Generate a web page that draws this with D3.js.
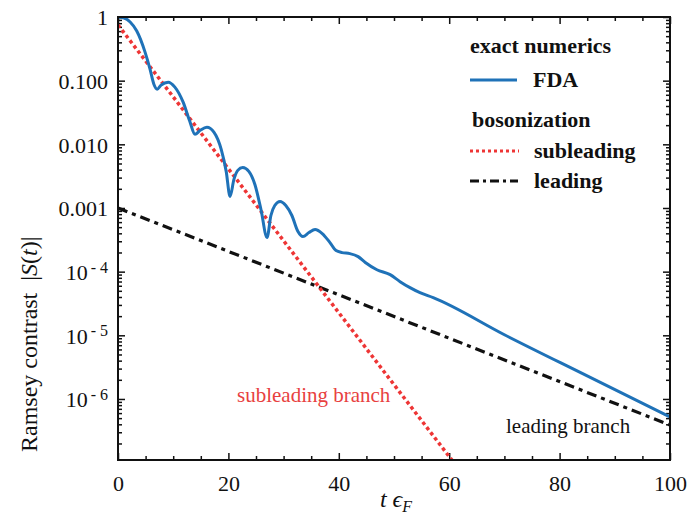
<!DOCTYPE html>
<html>
<head>
<meta charset="utf-8">
<script src="https://d3js.org/d3.v7.min.js"></script>
<style>
  body { margin: 0; background: #fff; }
  text { font-family: "Liberation Serif", "DejaVu Serif", serif; fill: #111; }
</style>
</head>
<body>
<div id="chart"></div>
<script>
// FDA exact numerics (t*eps_F, |S(t)|)
var tFDA = [0, 1.1, 2.2, 3.4, 4.9, 5.8, 6.5, 7.1, 7.8, 9.1, 10.3, 11.8, 13.0, 13.95,
  14.9, 16.1, 17.4, 18.7, 19.6, 20.3, 21.0, 21.7, 22.6, 23.7, 24.8, 25.9, 27.0,
  27.7, 28.4, 29.35, 30.4, 31.5, 32.6, 33.5, 34.6, 35.7, 37.0, 38.4, 39.5, 40.6,
  42.0, 43.5, 44.8, 46.9, 49.3, 51.1, 52.9, 54.7, 57.1, 70, 85, 100];
var sFDA = [1, 0.964, 0.834, 0.602, 0.281, 0.152, 0.0881, 0.0735, 0.085, 0.0947, 0.0791,
  0.0459, 0.023, 0.01436, 0.0166, 0.01853, 0.01545, 0.00834, 0.00376, 0.00152,
  0.00281, 0.0039, 0.00434, 0.00376, 0.00234, 0.000947, 0.000343, 0.000762,
  0.001095, 0.001265, 0.001095, 0.000762, 0.000427, 0.000356, 0.000411, 0.000458,
  0.000397, 0.000286, 0.000214, 0.000199, 0.000192, 0.000172, 0.000139, 0.000107,
  8.97e-5, 6.96e-5, 5.6e-5, 4.67e-5, 3.9e-5, 1.02e-5, 2.3e-6, 5.21e-7];

// bosonization branches (straight lines on the log axis)
var tSub = [0, 62];
var sSub = [0.75, 7.4e-8];
var tLead = [0, 100];
var sLead = [1e-3, 3.9e-7];

var xTicks = [0, 20, 40, 60, 80, 100];
var yTicks = [1, 0.1, 0.01, 0.001, 1e-4, 1e-5, 1e-6];
var yTickLabels = ["1", "0.100", "0.010", "0.001", "10^- 4", "10^- 5", "10^- 6"];

var width = 688, height = 521;
var margin = {left: 118, top: 17, right: 18, bottom: 61};
var iw = width - margin.left - margin.right,
    ih = height - margin.top - margin.bottom;

var blue = "#1f72b8", red = "#ee3535";

var svg = d3.select("#chart").append("svg")
  .attr("width", width).attr("height", height);

var x = d3.scaleLinear().domain([0, 100]).range([margin.left, margin.left + iw]);
var y = d3.scaleLog().domain([1.1e-7, 1]).range([margin.top + ih, margin.top]);

// minor ticks
var xMinor = d3.range(0, 101, 5).filter(function(d) { return d % 20 != 0; });
var yMinor = [];
for (var e = -7; e < 0; e++) {
  for (var k = 2; k <= 9; k++) {
    var v = k * Math.pow(10, e);
    if (v >= 1.1e-7 && v < 1) yMinor.push(v);
  }
}

function styleAxis(g) {
  g.select(".domain").remove();
  g.selectAll(".tick line").attr("stroke", "#111").attr("stroke-width", 1.5);
}

// bottom
svg.append("g").attr("transform", "translate(0," + (margin.top + ih) + ")")
  .call(d3.axisBottom(x).tickValues(xTicks).tickSize(-7).tickPadding(15).tickFormat(d3.format("d")))
  .call(styleAxis)
  .selectAll("text").attr("font-size", 22).attr("fill", "#111");
svg.append("g").attr("transform", "translate(0," + (margin.top + ih) + ")")
  .call(d3.axisBottom(x).tickValues(xMinor).tickSize(-4).tickFormat(""))
  .call(styleAxis);
// top
svg.append("g").attr("transform", "translate(0," + margin.top + ")")
  .call(d3.axisTop(x).tickValues(xTicks).tickSize(-7).tickFormat(""))
  .call(styleAxis);
svg.append("g").attr("transform", "translate(0," + margin.top + ")")
  .call(d3.axisTop(x).tickValues(xMinor).tickSize(-4).tickFormat(""))
  .call(styleAxis);

// left
var yl = svg.append("g").attr("transform", "translate(" + margin.left + ",0)")
  .call(d3.axisLeft(y).tickValues(yTicks).tickSize(-7).tickPadding(10)
    .tickFormat(function(d, i) { return yTickLabels[i]; }))
  .call(styleAxis);
yl.selectAll(".tick text").each(function() {
  var t = d3.select(this), s = t.text();
  t.attr("font-size", 22).attr("fill", "#111").attr("dy", "0.35em");
  if (s.indexOf("^") >= 0) {
    var parts = s.split("^");
    t.text(null);
    t.append("tspan").text(parts[0]);
    t.append("tspan").attr("dy", "-0.45em").attr("font-size", 16).attr("dx", 3).text(parts[1]);
  }
});
svg.append("g").attr("transform", "translate(" + margin.left + ",0)")
  .call(d3.axisLeft(y).tickValues(yMinor).tickSize(-4).tickFormat(""))
  .call(styleAxis);
// right
svg.append("g").attr("transform", "translate(" + (margin.left + iw) + ",0)")
  .call(d3.axisRight(y).tickValues(yTicks).tickSize(-7).tickFormat(""))
  .call(styleAxis);
svg.append("g").attr("transform", "translate(" + (margin.left + iw) + ",0)")
  .call(d3.axisRight(y).tickValues(yMinor).tickSize(-4).tickFormat(""))
  .call(styleAxis);

// clip
svg.append("clipPath").attr("id", "clip").append("rect")
  .attr("x", margin.left).attr("y", margin.top).attr("width", iw).attr("height", ih);

var line = d3.line().x(function(d) { return x(d[0]); }).y(function(d) { return y(d[1]); });
var plot = svg.append("g").attr("clip-path", "url(#clip)");

plot.append("path").datum(d3.zip(tLead, sLead))
  .attr("d", line).attr("fill", "none").attr("stroke", "#111")
  .attr("stroke-width", 3.2).attr("stroke-dasharray", "10,5,4,5");
plot.append("path").datum(d3.zip(tSub, sSub))
  .attr("d", line).attr("fill", "none").attr("stroke", red)
  .attr("stroke-width", 3.5).attr("stroke-dasharray", "3.5,3");
plot.append("path").datum(d3.zip(tFDA, sFDA))
  .attr("d", line.curve(d3.curveMonotoneX)).attr("fill", "none").attr("stroke", blue)
  .attr("stroke-width", 3).attr("stroke-linejoin", "round");

// frame
svg.append("rect").attr("x", margin.left).attr("y", margin.top)
  .attr("width", iw).attr("height", ih)
  .attr("fill", "none").attr("stroke", "#111").attr("stroke-width", 2);

// axis titles
var xt = svg.append("text").attr("x", 396).attr("y", 507).attr("text-anchor", "middle")
  .attr("font-size", 24);
xt.append("tspan").attr("font-style", "italic").text("t");
xt.append("tspan").attr("dx", 6).attr("font-style", "italic").text("\u03F5");
xt.append("tspan").attr("font-style", "italic").attr("font-size", 16).attr("dy", 5).text("F");

var yt = svg.append("text").attr("transform", "translate(37,452) rotate(-90)")
  .attr("font-size", 24);
yt.append("tspan").text("Ramsey contrast ");
yt.append("tspan").attr("dx", 6).text("|");
yt.append("tspan").attr("font-style", "italic").text("S");
yt.append("tspan").text("(");
yt.append("tspan").attr("font-style", "italic").text("t");
yt.append("tspan").text(")|");

// legend
var lg = svg.append("g");
lg.append("text").attr("x", 470).attr("y", 53).attr("font-size", 22).attr("font-weight", "bold").text("exact numerics");
lg.append("line").attr("x1", 470).attr("x2", 517).attr("y1", 80).attr("y2", 80)
  .attr("stroke", blue).attr("stroke-width", 3);
lg.append("text").attr("x", 533).attr("y", 87).attr("font-size", 22).attr("font-weight", "bold").text("FDA");
lg.append("text").attr("x", 472).attr("y", 127).attr("font-size", 22).attr("font-weight", "bold").text("bosonization");
lg.append("line").attr("x1", 470).attr("x2", 519).attr("y1", 151).attr("y2", 151)
  .attr("stroke", red).attr("stroke-width", 3).attr("stroke-dasharray", "3,3");
lg.append("text").attr("x", 534).attr("y", 158).attr("font-size", 22).attr("font-weight", "bold").text("subleading");
lg.append("line").attr("x1", 470).attr("x2", 518).attr("y1", 181).attr("y2", 181)
  .attr("stroke", "#111").attr("stroke-width", 3).attr("stroke-dasharray", "9,4,3,4");
lg.append("text").attr("x", 534).attr("y", 188).attr("font-size", 22).attr("font-weight", "bold").text("leading");

// branch annotations
svg.append("text").attr("x", 237).attr("y", 402).attr("font-size", 21)
  .style("fill", "#e8413f").text("subleading branch");
svg.append("text").attr("x", 506).attr("y", 433).attr("font-size", 21)
  .text("leading branch");
</script>
</body>
</html>
